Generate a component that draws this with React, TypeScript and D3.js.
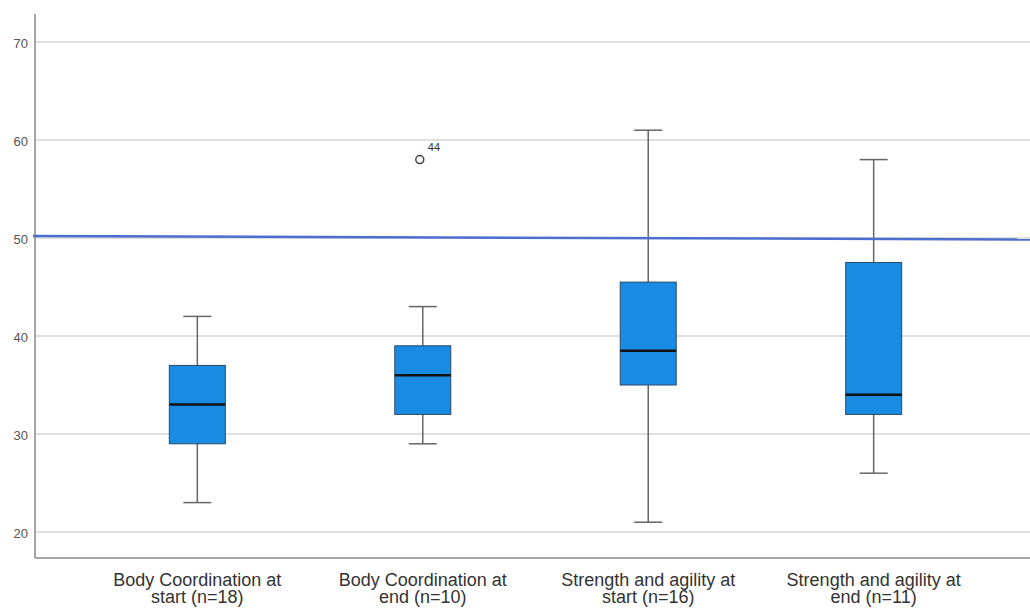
import React, { useRef, useEffect } from "react";
import * as d3 from "d3";

const categories = [
  "Body Coordination at|start (n=18)",
  "Body Coordination at|end (n=10)",
  "Strength and agility at|start (n=16)",
  "Strength and agility at|end (n=11)",
];
const whiskerLow = [23, 29, 21, 26];
const q1 = [29, 32, 35, 32];
const medians = [33, 36, 38.5, 34];
const q3 = [37, 39, 45.5, 47.5];
const whiskerHigh = [42, 43, 61, 58];
const outliers = [{ cat: 1, value: 58, label: "44" }];
const yTicks = [20, 30, 40, 50, 60, 70];
const refLine = [50.2, 49.85];

const App = () => {
  const svgRef = useRef<SVGSVGElement>(null);
  const width = 1030;
  const height = 608;

  useEffect(() => {
    const svg = d3.select(svgRef.current);
    svg.selectAll("*").remove();

    const left = 35;
    const top = 14;
    const bottom = 558;

    const y = d3.scaleLinear().domain([20, 70]).range([532, 42]);
    const x = d3
      .scalePoint()
      .domain(categories)
      .range([left, 1036])
      .padding(0.72);

    const g = svg.append("g");

    // gridlines
    g.selectAll("line.grid")
      .data(yTicks)
      .enter()
      .append("line")
      .attr("x1", left)
      .attr("x2", width)
      .attr("y1", (d) => y(d))
      .attr("y2", (d) => y(d))
      .attr("stroke", "#d4d4d4")
      .attr("stroke-width", 1.5);

    g.selectAll("text.tick")
      .data(yTicks)
      .enter()
      .append("text")
      .attr("x", 28)
      .attr("y", (d) => y(d) + 1)
      .attr("dy", "0.35em")
      .attr("text-anchor", "end")
      .attr("font-family", "Liberation Sans, Arial, sans-serif")
      .attr("font-size", 13)
      .attr("fill", "#555")
      .text((d) => d);

    // axes
    g.append("line")
      .attr("x1", left)
      .attr("x2", left)
      .attr("y1", top)
      .attr("y2", bottom)
      .attr("stroke", "#888")
      .attr("stroke-width", 1.5);
    g.append("line")
      .attr("x1", left)
      .attr("x2", width)
      .attr("y1", bottom)
      .attr("y2", bottom)
      .attr("stroke", "#888")
      .attr("stroke-width", 1.5);

    const boxW = 56;
    const capW = 28;
    const data = categories.map((c, i) => ({
      c,
      lo: whiskerLow[i],
      q1: q1[i],
      med: medians[i],
      q3: q3[i],
      hi: whiskerHigh[i],
    }));

    const box = g
      .selectAll("g.box")
      .data(data)
      .enter()
      .append("g")
      .attr("transform", (d) => `translate(${x(d.c)},0)`);

    box
      .append("line")
      .attr("y1", (d) => y(d.hi))
      .attr("y2", (d) => y(d.lo))
      .attr("stroke", "#666")
      .attr("stroke-width", 1.5);
    box
      .append("line")
      .attr("x1", -capW / 2)
      .attr("x2", capW / 2)
      .attr("y1", (d) => y(d.hi))
      .attr("y2", (d) => y(d.hi))
      .attr("stroke", "#666")
      .attr("stroke-width", 1.5);
    box
      .append("line")
      .attr("x1", -capW / 2)
      .attr("x2", capW / 2)
      .attr("y1", (d) => y(d.lo))
      .attr("y2", (d) => y(d.lo))
      .attr("stroke", "#666")
      .attr("stroke-width", 1.5);
    box
      .append("rect")
      .attr("x", -boxW / 2)
      .attr("width", boxW)
      .attr("y", (d) => y(d.q3))
      .attr("height", (d) => y(d.q1) - y(d.q3))
      .attr("fill", "#1A8BE3")
      .attr("stroke", "#2a4a66")
      .attr("stroke-width", 1);
    box
      .append("line")
      .attr("x1", -boxW / 2)
      .attr("x2", boxW / 2)
      .attr("y1", (d) => y(d.med))
      .attr("y2", (d) => y(d.med))
      .attr("stroke", "#111")
      .attr("stroke-width", 2.5);

    // outliers
    outliers.forEach((o) => {
      const cx = (x(categories[o.cat]) as number) - 3;
      g.append("circle")
        .attr("cx", cx)
        .attr("cy", y(o.value))
        .attr("r", 4)
        .attr("fill", "none")
        .attr("stroke", "#444")
        .attr("stroke-width", 1.5);
      g.append("text")
        .attr("x", cx + 8)
        .attr("y", y(o.value) - 9)
        .attr("font-family", "Liberation Sans, Arial, sans-serif")
        .attr("font-size", 11)
        .attr("fill", "#333")
        .text(o.label);
    });

    // reference line
    g.append("line")
      .attr("x1", left - 2)
      .attr("x2", width)
      .attr("y1", y(refLine[0]))
      .attr("y2", y(refLine[1]))
      .attr("stroke", "#4a6fcf")
      .attr("stroke-width", 2.5);

    // category labels
    const lab = g
      .selectAll("text.cat")
      .data(categories)
      .enter()
      .append("text")
      .attr("x", (d) => x(d) as number)
      .attr("y", 586)
      .attr("text-anchor", "middle")
      .attr("font-family", "Liberation Sans, Arial, sans-serif")
      .attr("font-size", 18)
      .attr("fill", "#333");
    lab
      .selectAll("tspan")
      .data((d) => d.split("|"))
      .enter()
      .append("tspan")
      .attr("x", function () {
        return (this as any).parentNode.getAttribute("x");
      })
      .attr("dy", (d, i) => (i === 0 ? 0 : 17))
      .text((d) => d);
  }, []);

  return (
    <svg
      ref={svgRef}
      width={width}
      height={height}
      style={{ position: "absolute", left: 0, top: 0, background: "#fff" }}
    />
  );
};

export default App;
